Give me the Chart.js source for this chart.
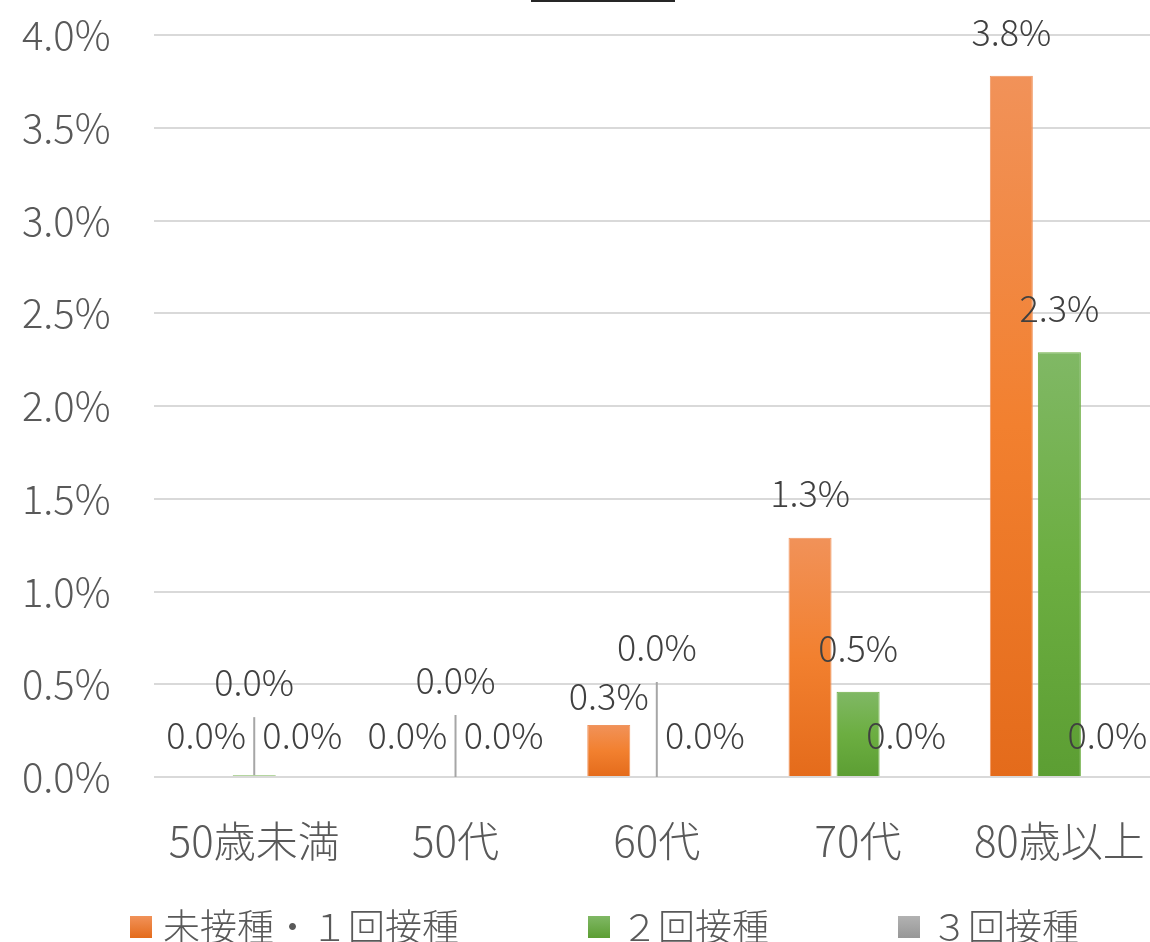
<!DOCTYPE html>
<html><head><meta charset="utf-8">
<script src="https://cdn.jsdelivr.net/npm/chart.js@4.4.0/dist/chart.umd.min.js"></script>
<style>html,body{margin:0;padding:0;overflow:hidden;background:#fff}canvas{display:block}</style>
</head><body>
<canvas id="c" width="1160" height="942"></canvas>
<script>
// ---- data ----
const categories = ['50歳未満', '50代', '60代', '70代', '80歳以上'];
const seriesNames = ['未接種・１回接種', '２回接種', '３回接種'];
const unvaccinatedOrOneDose = [0, 0, 0.28, 1.29, 3.78];
const twoDoses = [0.01, 0, 0, 0.46, 2.29];
const threeDoses = [0, 0, 0, 0, 0];
const yMin = 0, yMax = 4, yStep = 0.5;

// ---- styles ----
const FONT = '"Noto Sans CJK JP", "Noto Sans", sans-serif';
const palette = [
  {light: '#F19259', mid: '#F2802F', dark: '#E46B1B', border: '#F0955F'},
  {light: '#80B865', mid: '#6CAE41', dark: '#5C9E33', border: '#6CAE41'},
  {light: '#B2B2B2', mid: '#A5A5A5', dark: '#979797', border: '#B2B2B2'}
];
// label offset (px, label centre relative to bar top) per series / category
const labelOffsets = [
  [-42, -42, -29, -44, -43],
  [-93, -97, -130, -43, -44],
  [-42, -42, -42, -42, -42]
];

function barGradient(p) {
  return (ctx) => {
    const chart = ctx.chart; const y = chart.scales && chart.scales.y;
    if (!y || ctx.raw === undefined || !isFinite(y.getPixelForValue(0))) return p.mid;
    const top = y.getPixelForValue(ctx.raw), base = y.getPixelForValue(0);
    if (base - top < 4) return p.mid;
    const g = chart.ctx.createLinearGradient(0, top, 0, base);
    g.addColorStop(0, p.light); g.addColorStop(0.5, p.mid); g.addColorStop(1, p.dark);
    return g;
  };
}

const seriesValues = [unvaccinatedOrOneDose, twoDoses, threeDoses];

const labelPlugin = {
  id: 'dataLabels',
  afterDatasetsDraw(chart) {
    const ctx = chart.ctx;
    ctx.save();
    ctx.font = '300 36px ' + FONT;
    ctx.fillStyle = '#404040';
    ctx.textAlign = 'center';
    ctx.textBaseline = 'middle';
    chart.data.datasets.forEach((ds, di) => {
      const meta = chart.getDatasetMeta(di);
      meta.data.forEach((el, i) => {
        const v = ds.data[i];
        const off = labelOffsets[di][i];
        const ly = el.y + off;
        if (off < -60) {
          ctx.strokeStyle = '#A6A6A6';
          ctx.lineWidth = 2;
          ctx.beginPath();
          ctx.moveTo(el.x, ly + 35);
          ctx.lineTo(el.x, el.y);
          ctx.stroke();
        }
        ctx.fillText(v.toFixed(1) + '%', el.x, ly);
      });
    });
    ctx.restore();
  }
};

const legendPlugin = {
  id: 'customLegend',
  afterDraw(chart) {
    const ctx = chart.ctx;
    ctx.save();
    ctx.font = '300 37px ' + FONT;
    ctx.textBaseline = 'middle';
    ctx.textAlign = 'left';
    let x = 130; const cy = 927; const box = 22;
    chart.data.datasets.forEach((ds, di) => {
      const p = palette[di];
      const g = ctx.createLinearGradient(0, cy - box / 2, 0, cy + box / 2);
      g.addColorStop(0, p.light); g.addColorStop(1, p.dark);
      ctx.fillStyle = g;
      ctx.fillRect(x, cy - box / 2, box, box);
      ctx.fillStyle = '#595959';
      const tx = x + box + 11;
      ctx.fillText(ds.label, tx, cy);
      x = tx + ctx.measureText(ds.label).width + 129;
    });
    // cropped title underline at the very top
    ctx.fillStyle = '#262626';
    ctx.fillRect(531, 0, 144, 2);
    ctx.restore();
  }
};

new Chart(document.getElementById('c'), {
  type: 'bar',
  data: {
    labels: categories,
    datasets: seriesValues.map((vals, i) => ({
      label: seriesNames[i],
      data: vals,
      backgroundColor: barGradient(palette[i]),
      borderColor: palette[i].border,
      borderWidth: 1,
      barPercentage: 0.896,
      categoryPercentage: 0.716
    }))
  },
  options: {
    responsive: false,
    animation: false,
    layout: {padding: {top: 35, bottom: 55, left: 0, right: 0}},
    plugins: {legend: {display: false}, tooltip: {enabled: false}, title: {display: false}},
    scales: {
      x: {
        grid: {display: false},
        border: {display: false},
        ticks: {font: {family: FONT, size: 42, weight: 300}, color: '#595959', padding: 31, maxRotation: 0, autoSkip: false},
        afterFit(s) { s.height = 110; s.paddingLeft = 0; s.paddingRight = 0; }
      },
      y: {
        min: yMin, max: yMax,
        grid: {color: '#D9D9D9', lineWidth: 2, drawTicks: false},
        border: {display: false},
        ticks: {
          stepSize: yStep,
          font: {family: FONT, size: 40, weight: 300}, color: '#595959', padding: 43,
          callback: (v) => v.toFixed(1) + '%'
        },
        afterFit(s) { s.width = 153.6; s.paddingTop = 0; s.paddingBottom = 0; }
      }
    }
  },
  plugins: [labelPlugin, legendPlugin]
});
</script>
</body></html>
